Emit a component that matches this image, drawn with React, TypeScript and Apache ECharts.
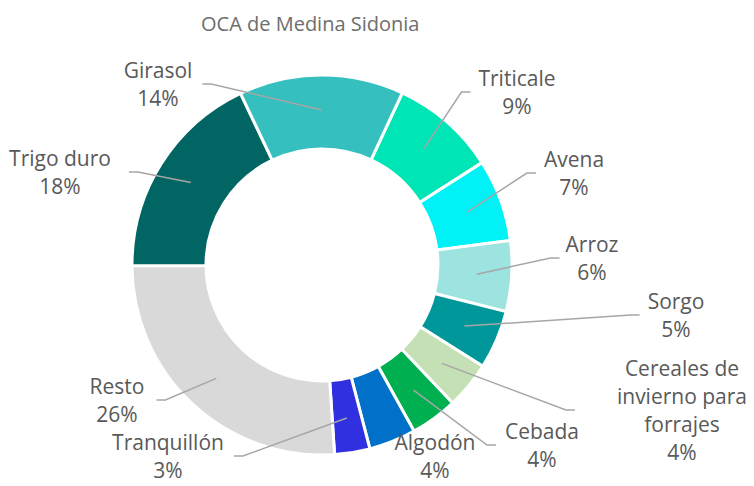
import React, { useEffect, useRef } from "react";
import * as echarts from "echarts";

const titleText = "OCA de Medina Sidonia";
const categories = [
  "Triticale",
  "Avena",
  "Arroz",
  "Sorgo",
  "Cereales de invierno para forrajes",
  "Cebada",
  "Algodón",
  "Tranquillón",
  "Resto",
  "Trigo duro",
  "Girasol",
];
const values = [9, 7, 6, 5, 4, 4, 4, 3, 26, 18, 14];

// styles / layout
const colors = [
  "#00E5B5",
  "#00F2F6",
  "#9DE3E0",
  "#00979A",
  "#C5E0B4",
  "#00B050",
  "#0070C8",
  "#3030E0",
  "#D9D9D9",
  "#006563",
  "#36BFBF",
];
const labelCenters: [number, number][] = [
  [517, 92],
  [574, 173],
  [592, 258],
  [676, 315],
  [682, 410],
  [542, 445],
  [435, 456],
  [168, 456],
  [117, 400],
  [60, 172],
  [158, 84],
];
const lineGaps = [8, 8, 6, 8, 42, 9, 0, 10, 12, 18, 10];
const showLine = [true, true, true, true, true, true, false, true, true, true, true];

const CENTER: [number, number] = [322, 265];

function wrapName(name: string, max: number): string {
  const words = name.split(" ");
  const lines: string[] = [];
  let cur = "";
  for (const w of words) {
    if (!cur) cur = w;
    else if ((cur + " " + w).length <= max) cur = cur + " " + w;
    else {
      lines.push(cur);
      cur = w;
    }
  }
  if (cur) lines.push(cur);
  return lines.join("\n");
}

export default function App() {
  const ref = useRef<HTMLDivElement>(null);
  useEffect(() => {
    if (!ref.current) return;
    const chart = echarts.init(ref.current, undefined, { renderer: "svg" });
    const data = categories.map((name, i) => ({
      name,
      value: values[i],
      itemStyle: { color: colors[i] },
    }));
    const labelData = categories.map((name, i) => ({
      name,
      value: values[i],
      labelLine: { show: showLine[i] },
    }));
    const font = "'Open Sans', 'Liberation Sans', sans-serif";
    chart.setOption({
      animation: false,
      backgroundColor: "#ffffff",
      title: {
        text: titleText,
        left: 196,
        top: 8,
        textStyle: {
          fontFamily: font,
          fontSize: 20,
          fontWeight: "normal",
          color: "#6E6E6E",
        },
      },
      series: [
        {
          type: "pie",
          z: 2,
          center: CENTER,
          radius: [116, 190],
          startAngle: 65,
          clockwise: true,
          silent: true,
          avoidLabelOverlap: false,
          itemStyle: { borderColor: "#ffffff", borderWidth: 3 },
          label: { show: false },
          labelLine: { show: false },
          data,
        },
        {
          type: "pie",
          z: 6,
          center: CENTER,
          radius: [0, 155],
          startAngle: 65,
          clockwise: true,
          silent: true,
          percentPrecision: 0,
          avoidLabelOverlap: false,
          itemStyle: { color: "rgba(0,0,0,0)", borderWidth: 0 },
          label: {
            show: true,
            position: "outside",
            formatter: (p: any) => wrapName(p.name, 13) + "\n" + p.percent + "%",
            fontFamily: font,
            fontSize: 21,
            lineHeight: 28,
            color: "#595959",
            align: "center",
          },
          labelLine: {
            show: true,
            length: 10,
            length2: 10,
            lineStyle: { color: "#A6A6A6", width: 1.5 },
          },
          labelLayout: (params: any) => {
            const i = params.dataIndex;
            const [lx, ly] = labelCenters[i];
            const w = params.labelRect.width;
            const res: any = {
              x: lx,
              y: ly,
              align: "center",
              verticalAlign: "middle",
            };
            const pts = params.labelLinePoints;
            if (pts && pts.length && showLine[i]) {
              const start = pts[0];
              const right = lx > start[0];
              const ex = right ? lx - w / 2 - lineGaps[i] : lx + w / 2 + lineGaps[i];
              const ey = ly;
              const bx = right ? ex - 9 : ex + 9;
              res.labelLinePoints = [start, [bx, ey], [ex, ey]];
            }
            return res;
          },
          data: labelData,
        },
      ],
    });
    return () => chart.dispose();
  }, []);
  return (
    <div
      ref={ref}
      style={{ position: "absolute", left: 0, top: 0, width: 754, height: 486 }}
    />
  );
}
